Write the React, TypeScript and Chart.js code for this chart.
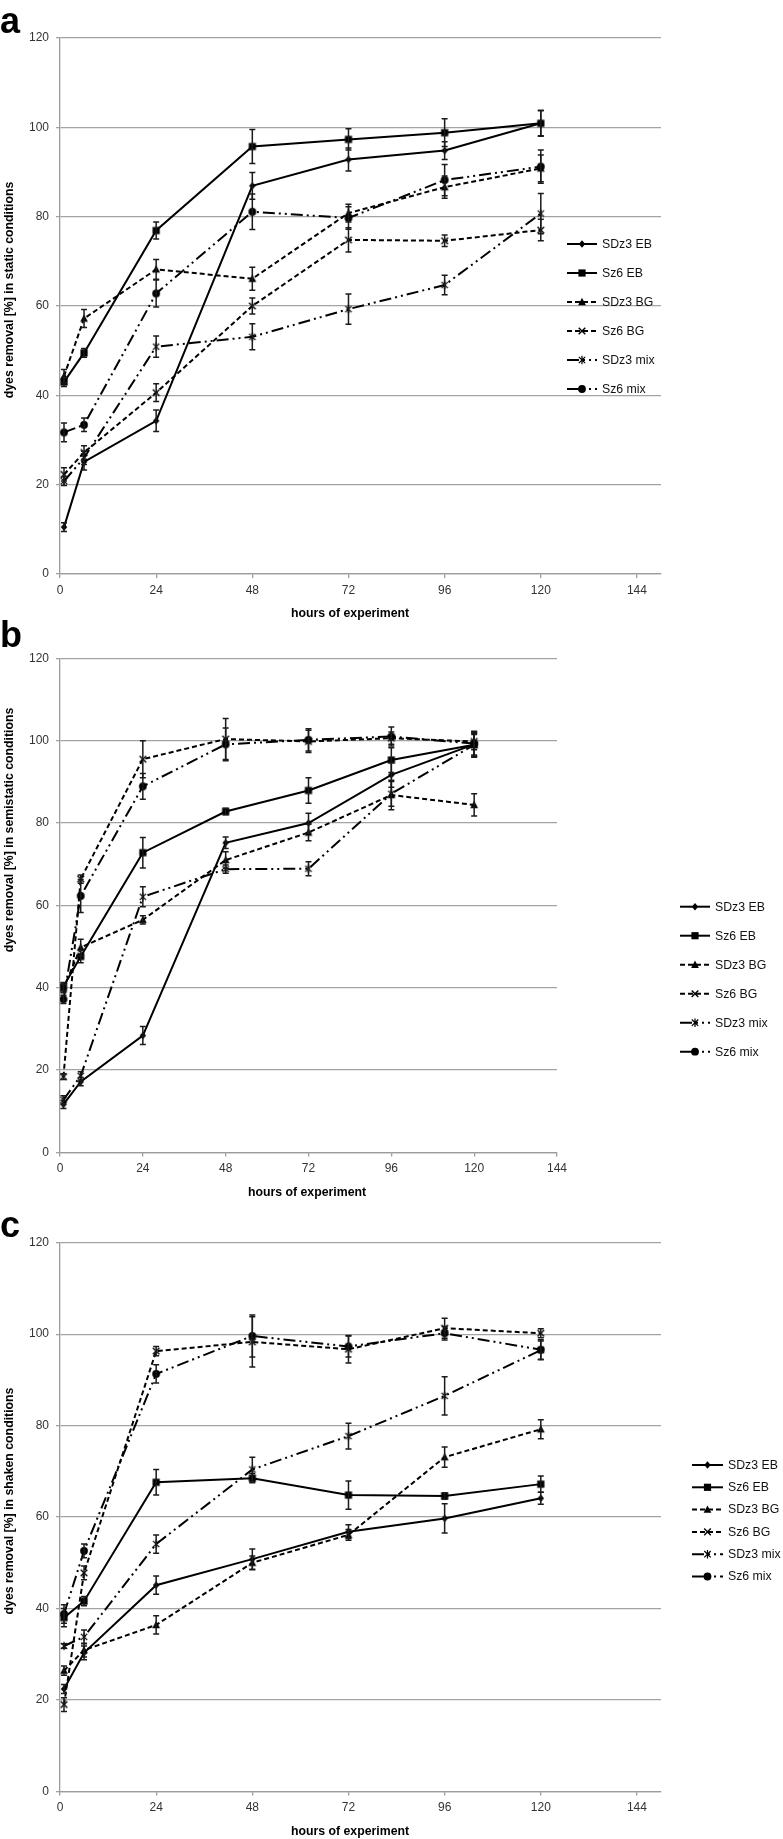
import React, { useEffect, useRef } from 'react';
import { Chart, registerables } from 'chart.js';
Chart.register(...registerables);

// ---------------- DATA ----------------
const hours = [1, 6, 24, 48, 72, 96, 120];
const seriesLabels = ['SDz3 EB', 'Sz6 EB', 'SDz3 BG', 'Sz6 BG', 'SDz3 mix', 'Sz6 mix'];
const xTickValues = [0, 24, 48, 72, 96, 120, 144];
const yTickValues = [0, 20, 40, 60, 80, 100, 120];

// Panel a – static conditions
const staticSDz3EB = [10.5, 25.1, 34.3, 86.9, 92.8, 94.8, 100.9];
const staticSDz3EBErr = [1.0, 1.8, 2.4, 3.0, 2.6, 2.0, 2.8];
const staticSz6EB = [43.0, 49.5, 76.9, 95.7, 97.3, 98.8, 100.9];
const staticSz6EBErr = [1.0, 1.0, 1.9, 3.8, 2.4, 3.1, 2.9];
const staticSDz3BG = [44.3, 57.2, 68.2, 66.1, 80.8, 86.6, 90.8];
const staticSDz3BGErr = [1.5, 2.0, 2.2, 2.6, 2.0, 2.5, 3.0];
const staticSz6BG = [22.3, 27.2, 40.6, 60.0, 74.8, 74.6, 77.0];
const staticSz6BGErr = [1.5, 1.5, 2.0, 1.8, 2.7, 1.3, 2.4];
const staticSDz3mix = [20.8, 26.0, 50.9, 53.1, 59.3, 64.7, 80.7];
const staticSDz3mixErr = [1.0, 1.5, 2.4, 2.9, 3.4, 2.2, 4.5];
const staticSz6mix = [31.7, 33.4, 62.8, 81.1, 79.7, 88.2, 91.2];
const staticSz6mixErr = [2.1, 1.5, 3.0, 4.0, 2.5, 3.5, 3.7];

// Panel b – semistatic conditions
const semiSDz3EB = [11.7, 17.2, 28.4, 75.2, 80.0, 91.7, 99.1];
const semiSDz3EBErr = [1.0, 1.0, 2.2, 1.4, 2.4, 3.0, 3.0];
const semiSz6EB = [40.3, 47.6, 72.8, 82.8, 87.9, 95.3, 99.0];
const semiSz6EBErr = [1.0, 1.5, 3.7, 0.8, 3.1, 3.0, 2.5];
const semiSDz3BG = [39.8, 49.8, 56.5, 71.0, 77.7, 86.8, 84.4];
const semiSDz3BGErr = [1.0, 2.0, 1.0, 2.0, 2.0, 3.6, 2.7];
const semiSz6BG = [18.4, 66.4, 95.5, 100.4, 99.8, 100.6, 99.8];
const semiSz6BGErr = [0.7, 1.0, 4.5, 5.0, 2.7, 1.5, 2.0];
const semiSDz3mix = [12.8, 18.6, 62.1, 68.8, 68.9, 87.1, 99.0];
const semiSDz3mixErr = [1.0, 1.0, 2.4, 1.0, 1.7, 3.0, 3.0];
const semiSz6mix = [37.2, 62.3, 88.9, 99.1, 100.2, 101.0, 99.3];
const semiSz6mixErr = [1.0, 4.0, 3.1, 4.0, 2.7, 2.3, 3.0];

// Panel c – shaken conditions
const shakenSDz3EB = [22.4, 30.3, 45.1, 50.8, 56.8, 59.7, 64.1];
const shakenSDz3EBErr = [1.0, 1.5, 2.0, 2.2, 1.5, 3.2, 1.3];
const shakenSz6EB = [38.0, 41.6, 67.6, 68.5, 64.8, 64.6, 67.2];
const shakenSz6EBErr = [2.0, 1.0, 2.8, 1.0, 3.1, 0.7, 1.8];
const shakenSDz3BG = [26.4, 30.9, 36.4, 50.0, 56.1, 73.1, 79.2];
const shakenSDz3BGErr = [1.0, 1.5, 2.0, 1.5, 1.2, 2.2, 2.1];
const shakenSz6BG = [19.0, 47.8, 96.3, 98.3, 96.7, 101.3, 100.2];
const shakenSz6BGErr = [1.5, 1.5, 1.0, 5.5, 3.0, 2.2, 1.0];
const shakenSDz3mix = [31.8, 33.8, 54.1, 70.4, 77.7, 86.5, 96.5];
const shakenSDz3mixErr = [0.5, 1.5, 2.0, 2.7, 2.8, 4.2, 2.0];
const shakenSz6mix = [38.8, 52.6, 91.3, 99.6, 97.3, 100.2, 96.6];
const shakenSz6mixErr = [2.0, 1.5, 2.0, 4.6, 2.3, 1.5, 2.2];

// ---------------- STYLE ----------------
const FONT = "'Liberation Sans', Arial, Helvetica, sans-serif";
const MARKERS = ['diamond', 'square', 'triangle', 'cross', 'star', 'circle'];
const DASHES: number[][] = [[], [], [5, 3], [5, 3], [12, 4, 2, 4, 2, 4], [12, 4, 2, 4, 2, 4]];

type Geo = {
  letter: string; canvasTop: number; canvasH: number; plotTop: number; plotBottom: number;
  plotRight: number; xMax: number; letterBase: number; xTitleX: number; xTitleY: number;
  yTitleY: number; yTitle: string; legX0: number; legX1: number; legText: number; legY0: number; legStep: number;
};

const panels: { geo: Geo; values: number[][]; errors: number[][] }[] = [
  {
    geo: { letter: 'a', canvasTop: 0, canvasH: 630, plotTop: 38, plotBottom: 574, plotRight: 661, xMax: 150,
      letterBase: 33, xTitleX: 350, xTitleY: 614, yTitleY: 290, yTitle: 'dyes removal [%] in static conditions',
      legX0: 567, legX1: 597, legText: 602, legY0: 244, legStep: 29 },
    values: [staticSDz3EB, staticSz6EB, staticSDz3BG, staticSz6BG, staticSDz3mix, staticSz6mix],
    errors: [staticSDz3EBErr, staticSz6EBErr, staticSDz3BGErr, staticSz6BGErr, staticSDz3mixErr, staticSz6mixErr],
  },
  {
    geo: { letter: 'b', canvasTop: 600, canvasH: 620, plotTop: 658.3, plotBottom: 1152.5, plotRight: 557, xMax: 144,
      letterBase: 647, xTitleX: 307, xTitleY: 1193, yTitleY: 830, yTitle: 'dyes removal [%] in semistatic conditions',
      legX0: 680, legX1: 710, legText: 715, legY0: 906.7, legStep: 29 },
    values: [semiSDz3EB, semiSz6EB, semiSDz3BG, semiSz6BG, semiSDz3mix, semiSz6mix],
    errors: [semiSDz3EBErr, semiSz6EBErr, semiSDz3BGErr, semiSz6BGErr, semiSDz3mixErr, semiSz6mixErr],
  },
  {
    geo: { letter: 'c', canvasTop: 1200, canvasH: 639, plotTop: 1242.7, plotBottom: 1791.4, plotRight: 661, xMax: 150,
      letterBase: 1237, xTitleX: 350, xTitleY: 1832, yTitleY: 1501, yTitle: 'dyes removal [%] in shaken conditions',
      legX0: 692, legX1: 723, legText: 728, legY0: 1465, legStep: 22.3 },
    values: [shakenSDz3EB, shakenSz6EB, shakenSDz3BG, shakenSz6BG, shakenSDz3mix, shakenSz6mix],
    errors: [shakenSDz3EBErr, shakenSz6EBErr, shakenSDz3BGErr, shakenSz6BGErr, shakenSDz3mixErr, shakenSz6mixErr],
  },
];

function drawMarker(ctx: CanvasRenderingContext2D, kind: string, x: number, y: number) {
  ctx.save();
  ctx.setLineDash([]);
  ctx.fillStyle = '#000';
  ctx.strokeStyle = '#000';
  ctx.beginPath();
  switch (kind) {
    case 'diamond':
      ctx.moveTo(x, y - 3.8); ctx.lineTo(x + 3.2, y); ctx.lineTo(x, y + 3.8); ctx.lineTo(x - 3.2, y);
      ctx.closePath(); ctx.fill(); break;
    case 'square':
      ctx.rect(x - 3.6, y - 3.6, 7.2, 7.2); ctx.fill(); break;
    case 'triangle':
      ctx.moveTo(x, y - 4.2); ctx.lineTo(x + 3.9, y + 3.2); ctx.lineTo(x - 3.9, y + 3.2);
      ctx.closePath(); ctx.fill(); break;
    case 'cross':
      ctx.lineWidth = 1.4;
      ctx.moveTo(x - 3.3, y - 3.3); ctx.lineTo(x + 3.3, y + 3.3);
      ctx.moveTo(x + 3.3, y - 3.3); ctx.lineTo(x - 3.3, y + 3.3);
      ctx.stroke(); break;
    case 'star':
      ctx.lineWidth = 1.2;
      ctx.moveTo(x - 3.2, y - 3.2); ctx.lineTo(x + 3.2, y + 3.2);
      ctx.moveTo(x + 3.2, y - 3.2); ctx.lineTo(x - 3.2, y + 3.2);
      ctx.moveTo(x, y - 4.2); ctx.lineTo(x, y + 4.2);
      ctx.stroke(); break;
    case 'circle':
      ctx.arc(x, y, 3.9, 0, Math.PI * 2); ctx.fill(); break;
  }
  ctx.restore();
}

function makeMarkerImage(kind: string) {
  const c = document.createElement('canvas');
  c.width = 14; c.height = 14;
  const ctx = c.getContext('2d')!;
  drawMarker(ctx, kind, 7, 7);
  return c;
}

function PanelChart({ panel }: { panel: typeof panels[number] }) {
  const ref = useRef<HTMLCanvasElement>(null);
  const g = panel.geo;
  useEffect(() => {
    const canvas = ref.current!;
    const imgs = MARKERS.map(makeMarkerImage);
    const off = g.canvasTop;
    const datasets = panel.values.map((vals, si) => ({
      label: seriesLabels[si],
      data: hours.map((h, i) => ({ x: h, y: vals[i] })),
      showLine: true,
      borderColor: '#000',
      backgroundColor: '#000',
      borderWidth: 2,
      borderDash: DASHES[si],
      pointStyle: imgs[si],
      pointRadius: 4,
      pointHoverRadius: 4,
      tension: 0,
      fill: false,
    }));

    const errPlugin = {
      id: 'errbars',
      afterDatasetsDraw(chart: any) {
        const ctx = chart.ctx as CanvasRenderingContext2D;
        const ys = chart.scales.y;
        ctx.save();
        ctx.setLineDash([]);
        ctx.strokeStyle = '#1a1a1a';
        ctx.lineWidth = 1.5;
        panel.values.forEach((vals, si) => {
          const meta = chart.getDatasetMeta(si);
          vals.forEach((v, i) => {
            const e = panel.errors[si][i];
            const x = meta.data[i].x;
            const y1 = ys.getPixelForValue(v + e);
            const y2 = ys.getPixelForValue(v - e);
            ctx.beginPath();
            ctx.moveTo(x, y1); ctx.lineTo(x, y2);
            ctx.moveTo(x - 3, y1); ctx.lineTo(x + 3, y1);
            ctx.moveTo(x - 3, y2); ctx.lineTo(x + 3, y2);
            ctx.stroke();
          });
        });
        ctx.restore();
      },
    };

    const textPlugin = {
      id: 'texts',
      afterDraw(chart: any) {
        const ctx = chart.ctx as CanvasRenderingContext2D;
        ctx.save();
        ctx.fillStyle = '#000';
        ctx.textAlign = 'left';
        ctx.textBaseline = 'alphabetic';
        ctx.font = `bold 36px ${FONT}`;
        ctx.fillText(g.letter, 0, g.letterBase - off);

        ctx.font = `bold 12.3px ${FONT}`;
        ctx.textAlign = 'center';
        ctx.textBaseline = 'middle';
        ctx.fillText('hours of experiment', g.xTitleX, g.xTitleY - off);

        ctx.save();
        ctx.translate(10, g.yTitleY - off);
        ctx.rotate(-Math.PI / 2);
        ctx.fillText(g.yTitle, 0, 0);
        ctx.restore();

        ctx.font = `12.3px ${FONT}`;
        ctx.textAlign = 'left';
        seriesLabels.forEach((lab, si) => {
          const y = g.legY0 + si * g.legStep - off;
          ctx.save();
          ctx.strokeStyle = '#000';
          ctx.lineWidth = 2;
          ctx.setLineDash(DASHES[si]);
          ctx.beginPath();
          ctx.moveTo(g.legX0, y);
          ctx.lineTo(g.legX1, y);
          ctx.stroke();
          ctx.restore();
          drawMarker(ctx, MARKERS[si], (g.legX0 + g.legX1) / 2, y);
          ctx.fillStyle = '#111';
          ctx.fillText(lab, g.legText, y + 0.5);
        });
        ctx.restore();
      },
    };

    const chart = new Chart(canvas, {
      type: 'scatter',
      data: { datasets: datasets as any },
      options: {
        animation: false,
        responsive: false,
        maintainAspectRatio: false,
        devicePixelRatio: 1,
        layout: { padding: { top: g.plotTop - g.canvasTop, right: 783 - g.plotRight, left: 0, bottom: 0 } },
        plugins: { legend: { display: false }, tooltip: { enabled: false } },
        scales: {
          x: {
            type: 'linear',
            min: 0,
            max: g.xMax,
            afterBuildTicks: (s: any) => { s.ticks = xTickValues.map((v) => ({ value: v })); },
            afterFit: (s: any) => { s.height = g.canvasTop + g.canvasH - g.plotBottom; },
            ticks: { color: '#333', font: { family: FONT, size: 12 }, padding: 5, maxRotation: 0, autoSkip: false },
            grid: { display: true, drawOnChartArea: false, drawTicks: true, tickLength: 4, color: '#9c9c9c', lineWidth: 1.3 },
            border: { display: true, color: '#9c9c9c', width: 1.3 },
          },
          y: {
            type: 'linear',
            min: 0,
            max: 120,
            afterBuildTicks: (s: any) => { s.ticks = yTickValues.map((v) => ({ value: v })); },
            afterFit: (s: any) => { s.width = 60; },
            ticks: { color: '#333', font: { family: FONT, size: 12 }, padding: 7 },
            grid: { color: '#a3a3a3', lineWidth: 1.3, tickLength: 4 },
            border: { display: true, color: '#9c9c9c', width: 1.3 },
          },
        },
      },
      plugins: [errPlugin, textPlugin],
    } as any);
    return () => chart.destroy();
  }, []);
  return (
    <canvas
      ref={ref}
      width={783}
      height={g.canvasH}
      style={{ position: 'absolute', left: 0, top: g.canvasTop, width: 783, height: g.canvasH }}
    />
  );
}

export default function App() {
  return (
    <div style={{ position: 'absolute', left: 0, top: 0, width: 783, height: 1839, background: '#fff' }}>
      {panels.map((p) => (
        <PanelChart key={p.geo.letter} panel={p} />
      ))}
    </div>
  );
}
